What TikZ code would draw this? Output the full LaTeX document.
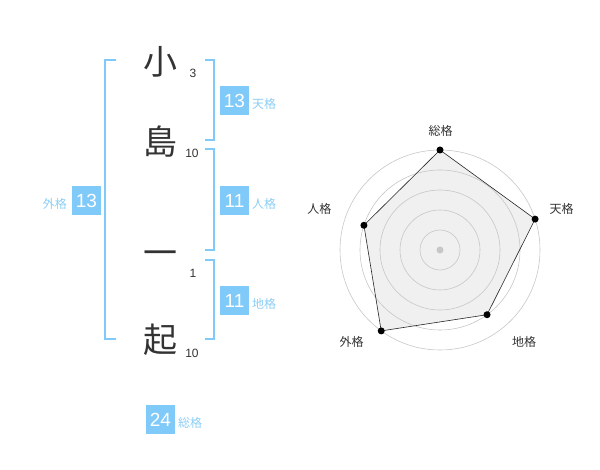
\documentclass[tikz,border=0pt]{standalone}
\usepackage{fontspec}
\setmainfont{Liberation Sans}
\newfontfamily\jp{Noto Sans CJK JP}
\definecolor{kakublue}{HTML}{80CAFA}
\definecolor{kakutext}{HTML}{8CCEF5}
\definecolor{moji}{HTML}{333333}

\begin{document}
\begin{tikzpicture}[x=1pt, y=-1pt,
    moji/.style={font=\jp\fontsize{34}{34}\selectfont, text=moji, inner sep=0pt},
    kazu/.style={font=\fontsize{12}{12}\selectfont, text=moji, inner sep=0pt},
    kakubox/.style={fill=kakublue, text=white, minimum size=29pt, inner sep=0pt,
      font=\fontsize{19}{19}\selectfont},
    kakulabel/.style={font=\jp\fontsize{12}{12}\selectfont, text=kakutext, inner sep=0pt},
    kakko/.style={draw=kakublue, line width=2pt},
    ring/.style={draw=black!22, line width=0.6pt},
    axislabel/.style={font=\jp\fontsize{12}{12}\selectfont, text=moji, inner sep=0pt}]
      \useasboundingbox (0,0) rectangle (600,470);
      % name and strokes
      \node[moji] (c1) at (160,62) {小};
      \node[moji] (c2) at (160,142) {島};
      \node[moji] (c3) at (160,258) {一};
      \node[moji] (c4) at (160,340) {起};
      \node[kazu] (n1) at (193,73) {3};
      \node[kazu] (n2) at (192,153) {10};
      \node[kazu] (n3) at (193,273) {1};
      \node[kazu] (n4) at (192,353) {10};
      % brackets
      \draw[kakko] (116,60) -- (105,60) -- (105,339) -- (116,339);
      \draw[kakko] (205,60) -- (214,60) -- (214,140) -- (205,140);
      \draw[kakko] (205,149) -- (214,149) -- (214,250) -- (205,250);
      \draw[kakko] (205,260) -- (214,260) -- (214,339) -- (205,339);
      % kaku
      \node[kakubox] (ten) at (234.5,100.5) {13};
      \node[kakulabel, anchor=west] (tenl) at (252,104) {天格};
      \node[kakubox] (jin) at (234.5,200.5) {11};
      \node[kakulabel, anchor=west] (jinl) at (252,204) {人格};
      \node[kakubox] (chi) at (234.5,300.5) {11};
      \node[kakulabel, anchor=west] (chil) at (252,304) {地格};
      \node[kakubox] (gai) at (86.5,200.5) {13};
      \node[kakulabel, anchor=east] (gail) at (67,204) {外格};
      \node[kakubox] (sou) at (160.5,419.5) {24};
      \node[kakulabel, anchor=west] (soul) at (178,423) {総格};
      % radar
      \begin{scope}[shift={(440,250)}]
        \coordinate (pso) at (-90:100);
        \coordinate (pte) at (-18:100);
        \coordinate (pch) at (54:80);
        \coordinate (pga) at (126:100);
        \coordinate (pji) at (198:80);
        \fill[black!6] (pso) -- (pte) -- (pch) -- (pga) -- (pji) -- cycle;
        \foreach \r in {20,40,...,100}
          \draw[ring] (0,0) circle (\r);
        \fill[black!22] (0,0) circle (3.5);
        \draw[black!85, line width=0.6pt] (pso) -- (pte) -- (pch) -- (pga) -- (pji) -- cycle;
        \foreach \p in {pso,pte,pch,pga,pji}
          \fill[moji] (\p) circle (3.5);
      \end{scope}
      \node[axislabel] (lso) at (440.7,130.7) {総格};
      \node[axislabel] (lte) at (561.7,209) {天格};
      \node[axislabel] (lch) at (524,342) {地格};
      \node[axislabel] (lga) at (351.7,342) {外格};
      \node[axislabel] (lji) at (319.3,209) {人格};
\end{tikzpicture}
\end{document}
